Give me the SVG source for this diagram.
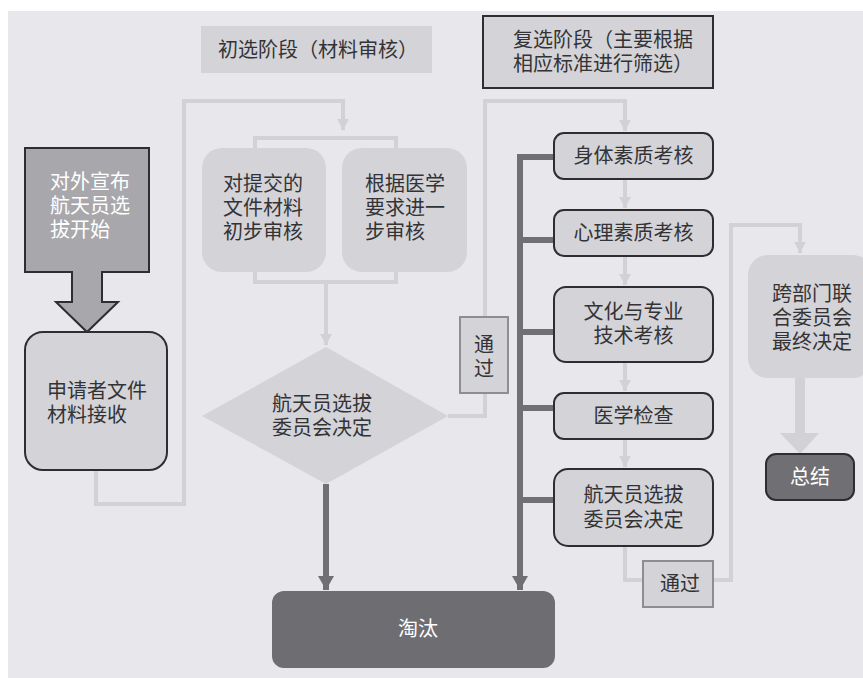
<svg xmlns="http://www.w3.org/2000/svg" width="863" height="678" viewBox="0 0 863 678">
<style>
.t{font-family:"Liberation Serif","Noto Sans CJK SC",serif;font-size:20px;fill:#333336}
.w{fill:#ffffff}
.lite{fill:none;stroke:#d2d2d6;stroke-width:4}
.dark{fill:none;stroke:#707074;stroke-width:6}
.box{fill:#d4d4d8;stroke:#2e2e30;stroke-width:2}
.soft{fill:#d4d4d8}
</style>
<defs>
<marker id="la" markerUnits="userSpaceOnUse" markerWidth="12" markerHeight="12" refX="11" refY="6" orient="auto">
<path d="M0,0 L11,6 L0,12 Z" fill="#d2d2d6"/>
</marker>
<marker id="da" markerUnits="userSpaceOnUse" markerWidth="16" markerHeight="16" refX="14" refY="8" orient="auto">
<path d="M0,0 L14,8 L0,16 Z" fill="#707074"/>
</marker>
</defs>
<rect x="0" y="0" width="863" height="678" fill="#ffffff"/>
<rect x="8" y="11" width="855" height="667" fill="#e8e8ec"/>

<g id="connectors">
<path class="lite" d="M96,470 V504 H184 V101 H343 V130" marker-end="url(#la)"/>
<path class="lite" d="M255,150 V138 H396 V150"/>
<path class="lite" d="M255,272 V282 H396 V272"/>
<path class="lite" d="M326,282 V345" marker-end="url(#la)"/>
<path class="lite" d="M448,416 H485 V393"/>
<path class="lite" d="M485,317 V101 H625 V131" marker-end="url(#la)"/>
<path class="lite" d="M625,179 V208" marker-end="url(#la)"/>
<path class="lite" d="M625,256 V285" marker-end="url(#la)"/>
<path class="lite" d="M625,362 V391" marker-end="url(#la)"/>
<path class="lite" d="M625,439 V467" marker-end="url(#la)"/>
<path class="lite" d="M625,546 V580 H643"/>
<path class="lite" d="M713,580 H731 V225 H800 V253" marker-end="url(#la)"/>
<path d="M800,378 V433" fill="none" stroke="#d2d2d6" stroke-width="10"/>
<path d="M780,433 H819 L800,454 Z" fill="#d2d2d6"/>
<path class="dark" d="M326,484 V590" marker-end="url(#da)"/>
<path class="dark" d="M554,157 H520 V590" marker-end="url(#da)"/>
<path class="dark" d="M554,240 H520"/>
<path class="dark" d="M554,332 H520"/>
<path class="dark" d="M554,408 H520"/>
<path class="dark" d="M554,500 H520"/>
</g>

<g id="title1">
<rect x="201" y="26" width="231" height="47" class="soft"/>
<text class="t" x="218" y="57">初选阶段（材料审核）</text>
</g>
<g id="title2">
<rect x="483" y="16" width="230" height="72" class="box"/>
<text class="t" x="513" y="47">复选阶段（主要根据</text>
<text class="t" x="513" y="71">相应标准进行筛选）</text>
</g>

<g id="start">
<path d="M25,148 H149 V272 H102 V302 H118 L87,332 L56,302 H72 V272 H25 Z" fill="#a8a8ac" stroke="#2e2e30" stroke-width="2"/>
<text class="t w" x="50" y="189">对外宣布</text>
<text class="t w" x="50" y="213">航天员选</text>
<text class="t w" x="50" y="237">拔开始</text>
</g>

<g id="receive">
<rect x="25" y="332" width="142" height="138" rx="18" class="box"/>
<text class="t" x="47" y="398">申请者文件</text>
<text class="t" x="47" y="422">材料接收</text>
</g>

<g id="review1">
<rect x="202" y="148" width="124" height="124" rx="20" class="soft"/>
<text class="t" x="223" y="191">对提交的</text>
<text class="t" x="223" y="215">文件材料</text>
<text class="t" x="223" y="239">初步审核</text>
</g>
<g id="review2">
<rect x="342" y="148" width="125" height="124" rx="20" class="soft"/>
<text class="t" x="365" y="191">根据医学</text>
<text class="t" x="365" y="215">要求进一</text>
<text class="t" x="365" y="239">步审核</text>
</g>

<g id="decision1">
<path d="M326,347 L448,416 L326,484 L202,416 Z" class="soft"/>
<text class="t" x="272" y="411">航天员选拔</text>
<text class="t" x="272" y="435">委员会决定</text>
</g>

<g id="pass1">
<rect x="460" y="317" width="48" height="76" fill="#d4d4d8" stroke="#8e8e92" stroke-width="2"/>
<text class="t" x="484" y="352" text-anchor="middle">通</text>
<text class="t" x="484" y="376" text-anchor="middle">过</text>
</g>

<g id="physical">
<rect x="554" y="133" width="159" height="46" rx="10" class="box"/>
<text class="t" x="633.5" y="163" text-anchor="middle">身体素质考核</text>
</g>
<g id="psych">
<rect x="554" y="210" width="159" height="46" rx="10" class="box"/>
<text class="t" x="633.5" y="240" text-anchor="middle">心理素质考核</text>
</g>
<g id="culture">
<rect x="554" y="287" width="159" height="75" rx="12" class="box"/>
<text class="t" x="633.5" y="319" text-anchor="middle">文化与专业</text>
<text class="t" x="633.5" y="343" text-anchor="middle">技术考核</text>
</g>
<g id="medical">
<rect x="554" y="393" width="159" height="46" rx="10" class="box"/>
<text class="t" x="633.5" y="423" text-anchor="middle">医学检查</text>
</g>
<g id="decision2">
<rect x="554" y="469" width="159" height="77" rx="14" class="box"/>
<text class="t" x="633.5" y="502" text-anchor="middle">航天员选拔</text>
<text class="t" x="633.5" y="527" text-anchor="middle">委员会决定</text>
</g>

<g id="pass2">
<rect x="643" y="561" width="70" height="46" fill="#d4d4d8" stroke="#8e8e92" stroke-width="2"/>
<text class="t" x="680" y="591" text-anchor="middle">通过</text>
</g>

<g id="final">
<rect x="748" y="255" width="125" height="123" rx="20" class="soft"/>
<text class="t" x="772" y="301">跨部门联</text>
<text class="t" x="772" y="325">合委员会</text>
<text class="t" x="772" y="349">最终决定</text>
</g>

<g id="summary">
<rect x="766" y="454" width="88" height="46" rx="10" fill="#707074" stroke="#2e2e30" stroke-width="2"/>
<text class="t w" x="810" y="484" text-anchor="middle">总结</text>
</g>

<g id="eliminate">
<rect x="272" y="591" width="283" height="77" rx="12" fill="#6e6e72"/>
<text class="t w" x="418" y="636" text-anchor="middle">淘汰</text>
</g>
</svg>
